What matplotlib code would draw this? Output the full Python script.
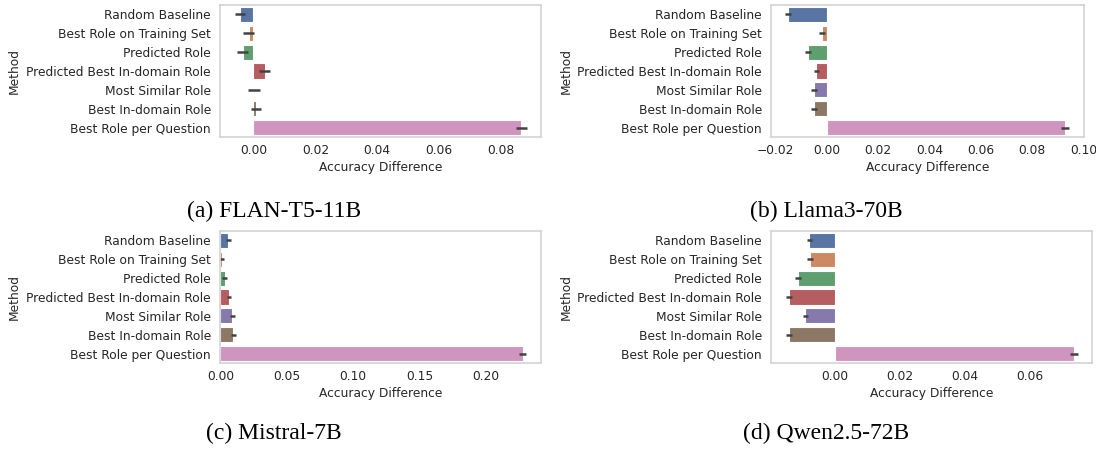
import matplotlib
matplotlib.use("Agg")
import matplotlib.pyplot as plt
import seaborn as sns

methods = ["Random Baseline", "Best Role on Training Set", "Predicted Role",
           "Predicted Best In-domain Role", "Most Similar Role",
           "Best In-domain Role", "Best Role per Question"]

# mean accuracy difference and half-width of the error bar, per model
flan_mean = [-0.0043, -0.0015, -0.0035, 0.0037, 0.0001, 0.0008, 0.0865]
flan_err = [0.0017, 0.0018, 0.0018, 0.0018, 0.0019, 0.0017, 0.0018]
llama_mean = [-0.0150, -0.0019, -0.0073, -0.0040, -0.0051, -0.0051, 0.0926]
llama_err = [0.0011, 0.0011, 0.0012, 0.0011, 0.0012, 0.0012, 0.0015]
mistral_mean = [0.0061, 0.0014, 0.0032, 0.0066, 0.0091, 0.0097, 0.2278]
mistral_err = [0.0017, 0.0014, 0.0017, 0.0017, 0.0018, 0.0018, 0.0025]
qwen_mean = [-0.0078, -0.0075, -0.0113, -0.0140, -0.0090, -0.0140, 0.0735]
qwen_err = [0.0008, 0.0009, 0.0010, 0.0010, 0.0009, 0.0010, 0.0012]

captions = ["(a) FLAN-T5-11B", "(b) Llama3-70B", "(c) Mistral-7B", "(d) Qwen2.5-72B"]

W, H = 1096, 450
colors = [sns.desaturate(c, 0.75) for c in sns.color_palette("deep", 7)]

fig = plt.figure(figsize=(W / 100, H / 100), dpi=100)

# axes boxes in pixels: left, right, top, bottom
boxes = [(220, 541, 5, 137), (771, 1084, 5, 137),
         (220, 541, 231, 363), (771, 1092, 231, 363)]
xlims = [(-0.0108, 0.0929), (-0.0217, 0.1001), (-0.0003, 0.2415), (-0.0196, 0.0791)]
means = [flan_mean, llama_mean, mistral_mean, qwen_mean]
errs = [flan_err, llama_err, mistral_err, qwen_err]
cap_pos = [(274, 211), (826, 211), (274, 433), (826, 433)]

for i in range(4):
    l, r, t, b = boxes[i]
    ax = fig.add_axes([l / W, 1 - b / H, (r - l) / W, (b - t) / H])
    y = list(range(len(methods)))
    ax.barh(y, means[i], height=0.8, color=colors, edgecolor="white", linewidth=0.8)
    ax.errorbar(means[i], y, xerr=errs[i], fmt="none", ecolor="#424242",
                elinewidth=1.8, capsize=0)
    ax.set_ylim(6.5, -0.5)
    ax.set_xlim(*xlims[i])
    ax.set_yticks(y)
    ax.set_yticklabels(methods)
    ax.tick_params(axis="both", length=0, labelsize=8.8, labelcolor="#262626")
    ax.tick_params(axis="y", pad=6.5)
    ax.tick_params(axis="x", pad=5)
    ax.set_xlabel("Accuracy Difference", fontsize=8.8, color="#262626", labelpad=3)
    ax.set_ylabel("Method", fontsize=8.8, color="#262626")
    # left edge of the label column differs between the two columns
    ax.yaxis.set_label_coords((21 - l) / (r - l) if i % 2 == 0 else (573 - l) / (r - l), 0.5)
    for s in ax.spines.values():
        s.set_color("#d0d0d0")
        s.set_linewidth(1.1)
    ax.grid(False)

    cx, cy = cap_pos[i]
    fig.text(cx / W, 1 - cy / H, captions[i], ha="center", va="center",
             fontsize=17, family="Liberation Serif", color="black")

fig.savefig("out.png", dpi=100)
